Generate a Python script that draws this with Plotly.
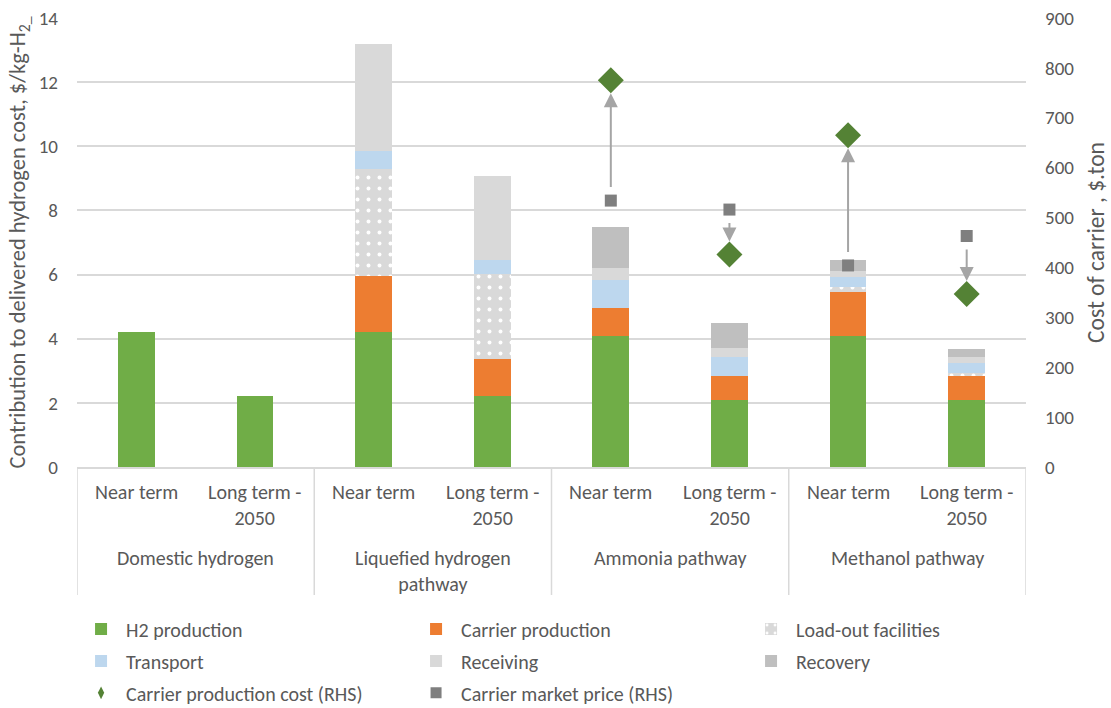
import plotly.graph_objects as go

# ---------------- data ----------------
groups = ["Domestic hydrogen", "Liquefied hydrogen<br>pathway", "Ammonia pathway", "Methanol pathway"]
terms = ["Near term", "Long term -<br>2050"]

h2_production = [4.2, 2.2, 4.2, 2.2, 4.07, 2.1, 4.07, 2.1]
carrier_production = [0, 0, 1.75, 1.17, 0.9, 0.74, 1.4, 0.74]
load_out = [0, 0, 3.35, 2.66, 0, 0, 0.15, 0.1]
transport = [0, 0, 0.55, 0.44, 0.86, 0.59, 0.31, 0.31]
receiving = [0, 0, 3.35, 2.6, 0.37, 0.28, 0.18, 0.18]
recovery = [0, 0, 0, 0, 1.28, 0.78, 0.34, 0.26]

carrier_prod_cost = [None, None, None, None, 775, 426, 665, 347]   # RHS
carrier_market_price = [None, None, None, None, 534, 516, 404, 463]  # RHS

y_ticks = [0, 2, 4, 6, 8, 10, 12, 14]
y2_ticks = [0, 100, 200, 300, 400, 500, 600, 700, 800, 900]

# ---------------- style ----------------
FONT = "Calibri, Carlito, Lato, 'Liberation Sans', Arial, sans-serif"
TXT = "#595959"
GRID = "#D9D9D9"
n_cat = len(groups) * len(terms)
xpos = list(range(n_cat))
BW = 0.31
LBL = 20

fig = go.Figure()

bar_series = [
    ("H2 production", h2_production, "#70AD47", None, "legend"),
    ("Carrier production", carrier_production, "#ED7D31", None, "legend"),
    ("Load-out facilities", load_out, "#D9D9D9", dict(shape=".", fgcolor="white", fgopacity=1, size=11, solidity=0.1), "legend"),
    ("Transport", transport, "#BDD7EE", None, "legend2"),
    ("Receiving", receiving, "#D9D9D9", None, "legend2"),
    ("Recovery", recovery, "#BFBFBF", None, "legend2"),
]
for name, vals, col, pat, lg in bar_series:
    marker = dict(color=col, line=dict(width=0))
    if pat:
        marker["pattern"] = pat
    fig.add_trace(go.Bar(x=xpos, y=vals, name=name, marker=marker, width=BW,
                         legend=lg, yaxis="y"))

# markers (plot)
fig.add_trace(go.Scatter(x=xpos, y=carrier_market_price, mode="markers", yaxis="y2",
                         marker=dict(symbol="square", size=12, color="#7F7F7F"),
                         showlegend=False, name="Carrier market price (RHS)"))
fig.add_trace(go.Scatter(x=xpos, y=carrier_prod_cost, mode="markers", yaxis="y2",
                         marker=dict(symbol="diamond", size=20, color="#548235"),
                         showlegend=False, name="Carrier production cost (RHS)"))
# legend-only entries
fig.add_trace(go.Scatter(x=[None], y=[None], mode="markers", yaxis="y2", legend="legend3",
                         marker=dict(symbol="diamond-tall", size=9, color="#548235"),
                         name="Carrier production cost (RHS)"))
fig.add_trace(go.Scatter(x=[None], y=[None], mode="markers", yaxis="y2", legend="legend3",
                         marker=dict(symbol="square", size=11, color="#7F7F7F"),
                         name="Carrier market price (RHS)"))

annotations = []
# arrows from market price to production cost
for i in xpos:
    if carrier_prod_cost[i] is None:
        continue
    annotations.append(dict(x=i, y=carrier_prod_cost[i], ax=i, ay=carrier_market_price[i],
                            xref="x", yref="y2", axref="x", ayref="y2",
                            showarrow=True, arrowhead=2, arrowsize=1.4, arrowwidth=2,
                            arrowcolor="#A5A5A5", standoff=13, startstandoff=5, text=" "))

# category tick labels
for gi, g in enumerate(groups):
    for ti, t in enumerate(terms):
        annotations.append(dict(x=gi * len(terms) + ti, y=-0.025, xref="x", yref="paper",
                                text=t, showarrow=False, yanchor="top", xanchor="center",
                                font=dict(family=FONT, size=LBL, color=TXT)))
    annotations.append(dict(x=gi * len(terms) + (len(terms) - 1) / 2, y=-0.172, xref="x", yref="paper",
                            text=g, showarrow=False, yanchor="top", xanchor="center",
                            font=dict(family=FONT, size=LBL, color=TXT)))

shapes = []
for k in range(len(groups) + 1):
    xs = k * len(terms) - 0.5
    shapes.append(dict(type="line", xref="x", yref="paper", x0=xs, x1=xs, y0=0, y1=-0.285,
                       line=dict(color=GRID, width=1.5)))

legend_common = dict(orientation="h", x=-0.001, xanchor="left", yanchor="middle",
                     entrywidth=280, itemwidth=40, traceorder="normal",
                     font=dict(family=FONT, size=LBL, color=TXT), bgcolor="rgba(0,0,0,0)")

fig.update_layout(
    width=1111, height=708,
    margin=dict(l=77, r=85, t=18, b=241, autoexpand=False),
    barmode="stack",
    plot_bgcolor="white", paper_bgcolor="white",
    font=dict(family=FONT, color=TXT),
    xaxis=dict(range=[-0.5, n_cat - 0.5], showticklabels=False, showgrid=False, zeroline=False,
               showline=True, linecolor=GRID, linewidth=1.5),
    yaxis=dict(range=[0, 14], tickvals=y_ticks, showgrid=True, gridcolor=GRID, gridwidth=1.5,
               zeroline=False, ticks="", ticklabelstandoff=18,
               tickfont=dict(family=FONT, size=19, color=TXT),
               title=dict(text="Contribution to delivered hydrogen cost, $/kg-H<sub>2_</sub>",
                          font=dict(family=FONT, size=22.5, color=TXT), standoff=6)),
    yaxis2=dict(range=[0, 900], tickvals=y2_ticks, overlaying="y", side="right", showgrid=False,
                zeroline=False, ticks="", ticklabelstandoff=18,
                tickfont=dict(family=FONT, size=19, color=TXT),
                title=dict(text="Cost of carrier , $.ton",
                           font=dict(family=FONT, size=23.5, color=TXT), standoff=14)),
    legend=dict(y=-0.361, **legend_common),
    legend2=dict(y=-0.432, **legend_common),
    legend3=dict(y=-0.503, **legend_common),
    annotations=annotations,
    shapes=shapes,
)

fig.write_html("out.html")
